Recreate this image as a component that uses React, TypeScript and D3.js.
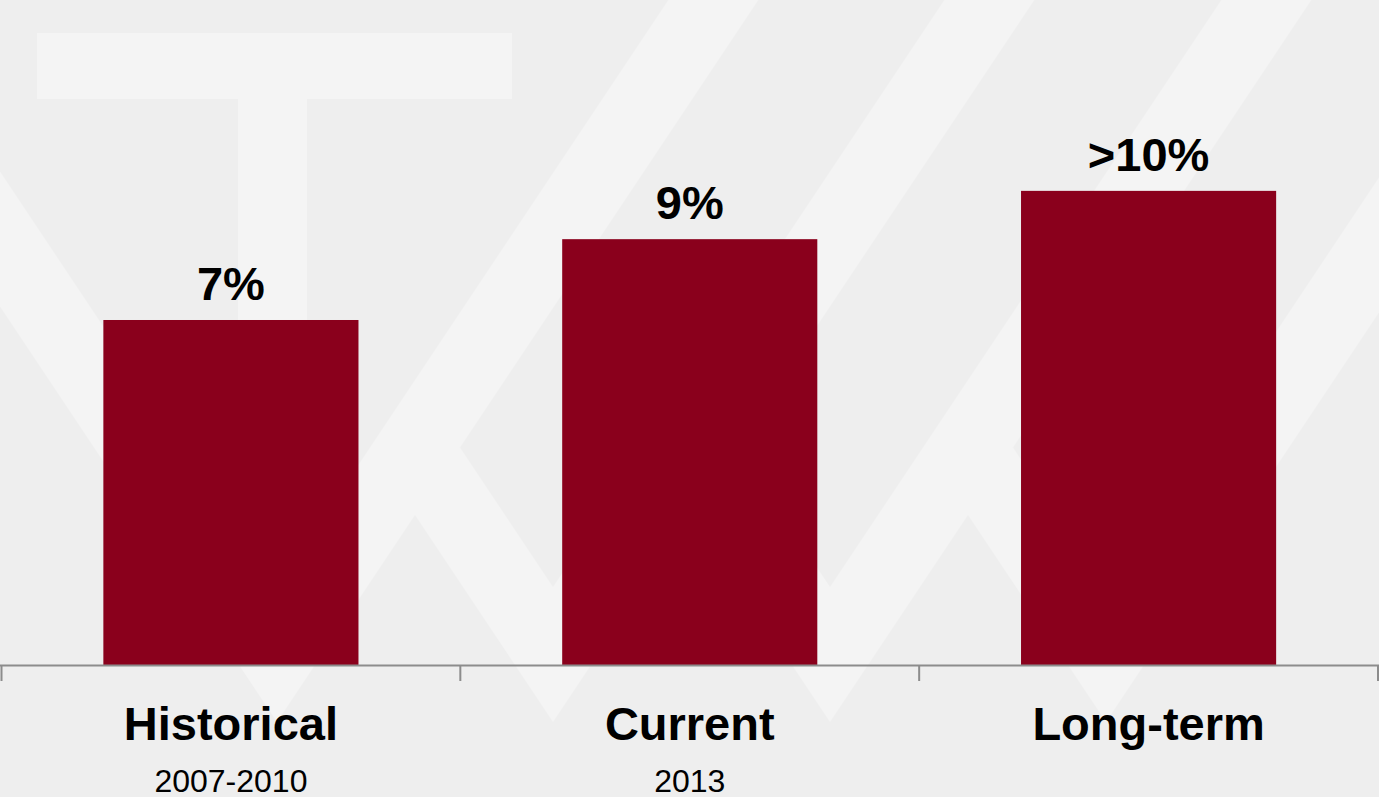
import React, { useEffect } from 'react';
import * as d3 from 'd3';

// ---- data ----
const categories = ['Historical', 'Current', 'Long-term'];
const periods = ['2007-2010', '2013', ''];
const values = [7, 8.64, 9.62];
const valueLabels = ['7%', '9%', '>10%'];

// ---- layout ----
const W = 1379;
const H = 797;
const BASE_Y = 665;
const FONT = '"Liberation Sans", Arial, Helvetica, sans-serif';
const BG = '#eeeeee';
const LIGHT = '#f4f4f4';
const BAR = '#8a001c';
const AXIS = '#8c8c8c';

// watermark geometry (decorative background)
const V_XS = [277, 553, 830, 1106];
const V_Y = 722;
const SLOPE = 1.5;
const STRIPE_W = 90;

function upStripe(v: number, yTop: number): string {
  const dy = (V_Y - yTop) / SLOPE;
  const pts: [number, number][] = [
    [v, V_Y],
    [v, V_Y - SLOPE * STRIPE_W],
    [v - STRIPE_W + dy, yTop],
    [v + dy, yTop],
  ];
  return pts.map((p) => p.join(',')).join(' ');
}

function downStripe(v: number, yTop: number): string {
  const dx = (yTop - V_Y) / SLOPE;
  const pts: [number, number][] = [
    [v + dx, yTop],
    [v + STRIPE_W + dx, yTop],
    [v, V_Y - SLOPE * STRIPE_W],
    [v, V_Y],
  ];
  return pts.map((p) => p.join(',')).join(' ');
}

// a down stripe that branches off the previous up stripe (K-shaped notch)
function branchStripe(v: number, vPrev: number): string {
  const xo = (v + vPrev - STRIPE_W) / 2;
  const yTop = V_Y + SLOPE * (xo - v);
  return downStripe(v, yTop);
}

export default function App() {
  useEffect(() => {
    document.body.style.margin = '0';
  }, []);

  const x = d3
    .scaleBand<string>()
    .domain(categories)
    .range([1.5, 1378])
    .paddingInner(0.444)
    .paddingOuter(0.222);

  const y = d3.scaleLinear().domain([0, 10]).range([BASE_Y, BASE_Y - 492.86]);

  const step = x.step();
  const tickXs = categories
    .map((c) => (x(c) as number) - (step * x.paddingInner()) / 2)
    .concat([(x(categories[categories.length - 1]) as number) + x.bandwidth() + (step * x.paddingInner()) / 2]);
  tickXs[0] = Math.max(tickXs[0], 1);
  tickXs[tickXs.length - 1] = Math.min(tickXs[tickXs.length - 1], W - 1);

  return (
    <svg
      width={W}
      height={H}
      style={{ position: 'absolute', left: 0, top: 0, display: 'block' }}
    >
      <rect x={0} y={0} width={W} height={H} fill={BG} />
      {/* watermark */}
      <g fill={LIGHT}>
        <rect x={37} y={33} width={475} height={66} />
        <rect x={238} y={98} width={69} height={530} />
        <polygon points={downStripe(V_XS[0], -60)} />
        {V_XS.slice(1).map((v, i) => (
          <polygon key={'d' + i} points={branchStripe(v, V_XS[i])} />
        ))}
        {V_XS.map((v, i) => (
          <polygon key={'u' + i} points={upStripe(v, -60)} />
        ))}
      </g>

      {/* bars */}
      {categories.map((c, i) => (
        <rect
          key={c}
          x={x(c)}
          y={y(values[i])}
          width={x.bandwidth()}
          height={BASE_Y - y(values[i])}
          fill={BAR}
        />
      ))}

      {/* axis */}
      <line x1={0} x2={W} y1={BASE_Y + 0.5} y2={BASE_Y + 0.5} stroke={AXIS} strokeWidth={2} />
      {tickXs.map((t, i) => (
        <line key={'t' + i} x1={t} x2={t} y1={BASE_Y} y2={BASE_Y + 16} stroke={AXIS} strokeWidth={2} />
      ))}

      {/* value labels */}
      {categories.map((c, i) => (
        <text
          key={'v' + c}
          x={(x(c) as number) + x.bandwidth() / 2}
          y={y(values[i]) - 20}
          textAnchor="middle"
          fontFamily={FONT}
          fontWeight="bold"
          fontSize={47}
          fill="#000"
        >
          {valueLabels[i]}
        </text>
      ))}

      {/* category labels */}
      {categories.map((c, i) => (
        <text
          key={'c' + c}
          x={(x(c) as number) + x.bandwidth() / 2}
          y={740}
          textAnchor="middle"
          fontFamily={FONT}
          fontWeight="bold"
          fontSize={47}
          fill="#000"
        >
          {c}
        </text>
      ))}
      {categories.map((c, i) =>
        periods[i] ? (
          <text
            key={'p' + c}
            x={(x(c) as number) + x.bandwidth() / 2}
            y={792}
            textAnchor="middle"
            fontFamily={FONT}
            fontSize={32}
            fill="#000"
          >
            {periods[i]}
          </text>
        ) : null
      )}
    </svg>
  );
}
